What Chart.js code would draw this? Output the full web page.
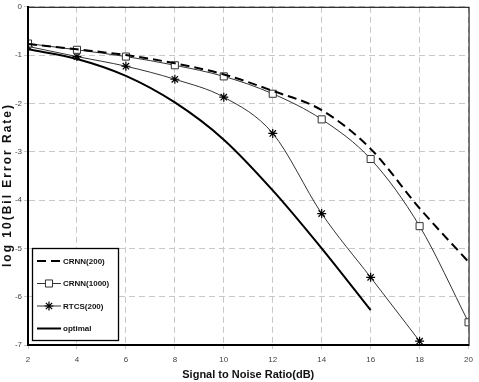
<!DOCTYPE html>
<html>
<head>
<meta charset="utf-8">
<script src="https://cdn.jsdelivr.net/npm/chart.js@4"></script>
<style>
  html, body { margin: 0; padding: 0; background: #fff; }
  #wrap { position: relative; width: 479px; height: 382px; }
</style>
</head>
<body>
<div id="wrap"><canvas id="c" width="479" height="382"></canvas></div>
<script>
// SNR values (dB) and log10(BER)
const snr = [2, 4, 6, 8, 10, 12, 14, 16, 18, 20];
const crnn200 = [-0.77, -0.88, -1.0, -1.17, -1.40, -1.74, -2.14, -2.94, -4.17, -5.28];
const crnn1000 = [-0.76, -0.89, -1.03, -1.21, -1.44, -1.80, -2.33, -3.15, -4.54, -6.53];
const rtcs200 = [-0.82, -1.03, -1.23, -1.50, -1.87, -2.62, -4.28, -5.60, -6.92];
const optimal = [-0.88, -1.08, -1.43, -1.98, -2.75, -3.80, -5.00, -6.28];
const seriesNames = ["CRNN(200)", "CRNN(1000)", "RTCS(200)", "optimal"];
const yTitle = "log 10(Bil Error Rate)";

const pts = (ys) => ys.map((y, i) => ({ x: snr[i], y: y }));
const font = "'Liberation Sans', Arial, sans-serif";

// frame, spaced-out y title and the legend box inside the plot
const boxLegend = {
  id: "boxLegend",
  afterDraw(chart) {
    const ctx = chart.ctx;
    const area = chart.chartArea;
    ctx.save();
    ctx.strokeStyle = "#000";
    ctx.lineWidth = 1;
    ctx.strokeRect(area.left + 0.5, area.top + 0.5, area.right - area.left, area.bottom - area.top);

    // y title with letter spacing
    ctx.save();
    ctx.translate(8, 185);
    ctx.rotate(-Math.PI / 2);
    ctx.font = "bold 12px " + font;
    ctx.letterSpacing = "2px";
    ctx.fillStyle = "#111";
    ctx.textAlign = "center";
    ctx.textBaseline = "middle";
    ctx.fillText(yTitle, 0, 0);
    ctx.restore();

    const x0 = area.left + 4, y0 = area.bottom - 97;
    ctx.fillStyle = "#fff";
    ctx.fillRect(x0, y0, 86, 92);
    ctx.lineWidth = 1.3;
    ctx.strokeRect(x0 + 0.5, y0 + 0.5, 86, 92);

    chart.data.datasets.forEach((ds, i) => {
      const yy = y0 + 13 + i * 22.5;
      ctx.save();
      ctx.strokeStyle = ds.borderColor;
      ctx.lineWidth = ds.borderWidth;
      ctx.setLineDash(ds.borderDash || []);
      ctx.beginPath();
      ctx.moveTo(x0 + 5, yy);
      ctx.lineTo(x0 + 29, yy);
      ctx.stroke();
      ctx.restore();
      if (ds.pointRadius > 0) {
        ctx.fillStyle = ds.pointBackgroundColor;
        ctx.strokeStyle = ds.pointBorderColor;
        ctx.lineWidth = ds.pointBorderWidth;
        Chart.helpers.drawPoint(ctx, {
          pointStyle: ds.pointStyle,
          radius: ds.pointRadius,
          borderWidth: ds.pointBorderWidth,
          rotation: 0
        }, x0 + 17, yy);
      }
      ctx.fillStyle = "#111";
      ctx.font = "bold 8px " + font;
      ctx.textBaseline = "middle";
      ctx.fillText(ds.label, x0 + 31, yy + 0.5);
    });
    ctx.restore();
  }
};

new Chart(document.getElementById("c"), {
  type: "line",
  data: {
    datasets: [
      {
        label: seriesNames[0],
        data: pts(crnn200),
        borderColor: "#000",
        borderWidth: 2,
        borderDash: [9, 5],
        pointRadius: 0,
        cubicInterpolationMode: "monotone"
      },
      {
        label: seriesNames[1],
        data: pts(crnn1000),
        borderColor: "#333",
        borderWidth: 1,
        pointStyle: "rect",
        pointRadius: 5,
        pointBorderWidth: 1,
        pointBackgroundColor: "#fff",
        pointBorderColor: "#333",
        cubicInterpolationMode: "monotone"
      },
      {
        label: seriesNames[2],
        data: pts(rtcs200),
        borderColor: "#333",
        borderWidth: 1,
        pointStyle: "star",
        pointRadius: 4.5,
        pointBorderWidth: 1.2,
        pointBackgroundColor: "#000",
        pointBorderColor: "#000",
        cubicInterpolationMode: "monotone"
      },
      {
        label: seriesNames[3],
        data: pts(optimal),
        borderColor: "#000",
        borderWidth: 2,
        pointRadius: 0,
        cubicInterpolationMode: "monotone"
      }
    ]
  },
  options: {
    responsive: false,
    animation: false,
    layout: { padding: { top: -4, right: 4, left: 0, bottom: 0 } },
    plugins: {
      legend: { display: false },
      tooltip: { enabled: false }
    },
    scales: {
      x: {
        type: "linear",
        min: 2,
        max: 20,
        ticks: { stepSize: 2, color: "#444", font: { family: font, size: 8 }, padding: 6 },
        grid: { color: "#c8c8c8", tickLength: 4 },
        border: { color: "#000", width: 2, dash: [6, 4] },
        title: {
          display: true,
          text: "Signal to Noise Ratio(dB)",
          color: "#111",
          font: { family: font, size: 11, weight: "bold" },
          padding: { top: 2, bottom: 0 }
        },
        afterFit(scale) { scale.height = 37; }
      },
      y: {
        min: -7,
        max: 0,
        ticks: { stepSize: 1, color: "#444", font: { family: font, size: 8 }, padding: 2 },
        grid: { color: "#c8c8c8", tickLength: 4 },
        border: { color: "#000", width: 2, dash: [6, 4] },
        afterFit(scale) { scale.width = 28; }
      }
    }
  },
  plugins: [boxLegend]
});
</script>
</body>
</html>
